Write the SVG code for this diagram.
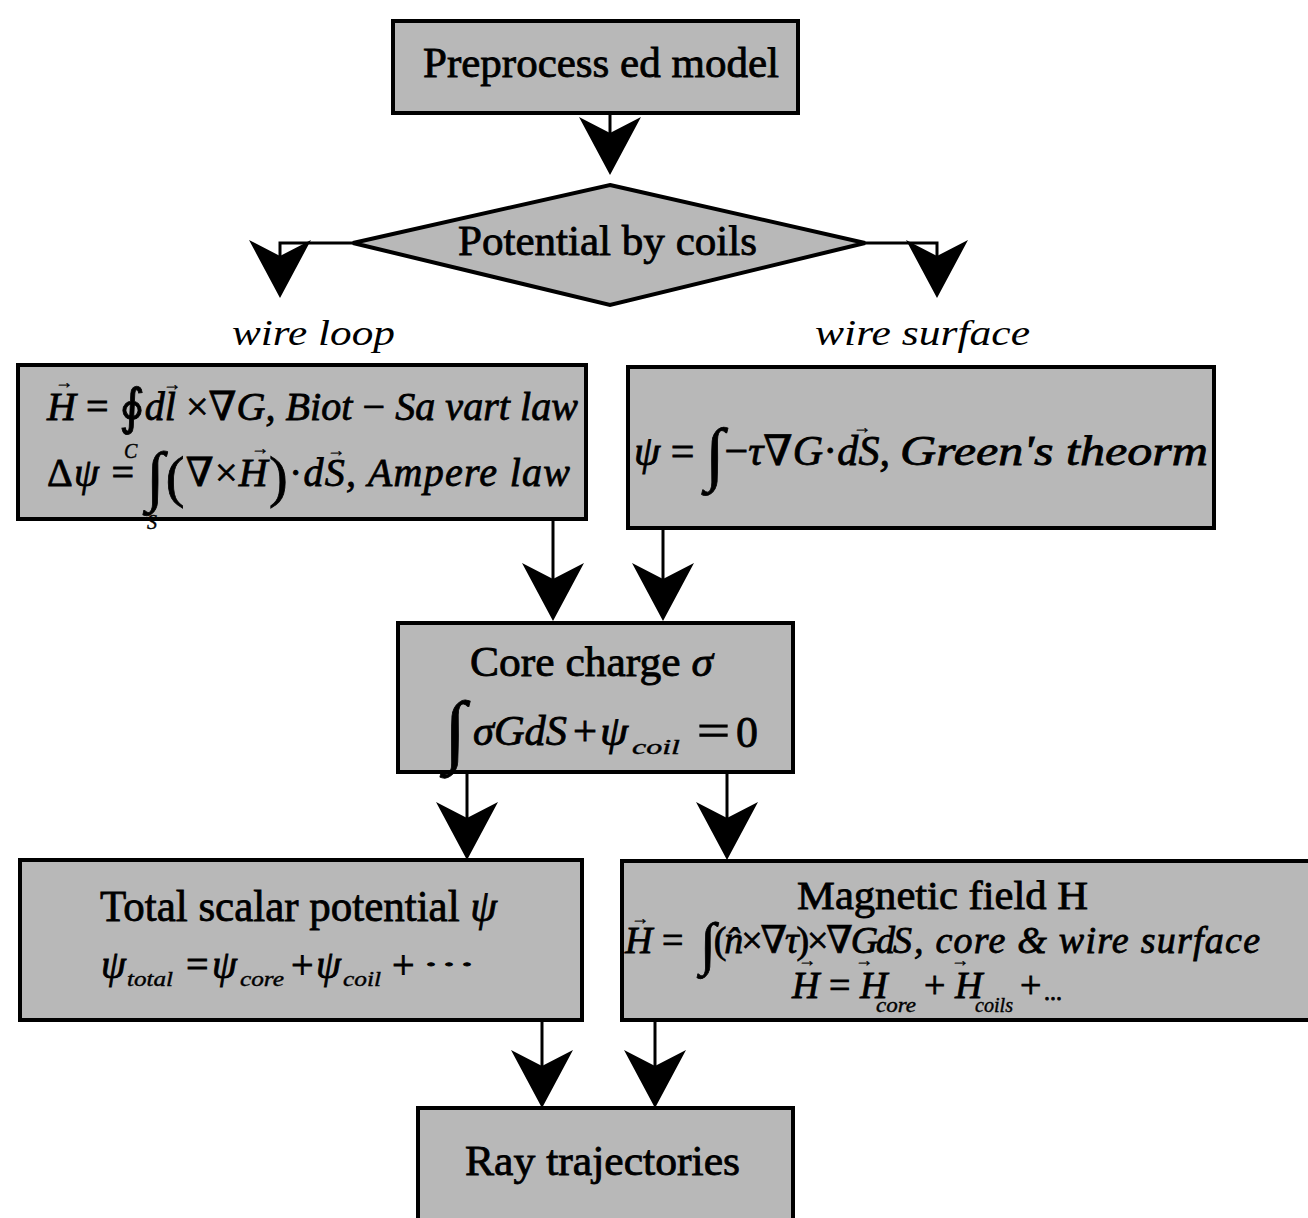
<svg xmlns="http://www.w3.org/2000/svg" width="1308" height="1218" viewBox="0 0 1308 1218">
<style>
.box{fill:#b8b8b8;stroke:#000;stroke-width:4}
.t{font-family:"Liberation Serif","Times New Roman","DejaVu Serif",serif;fill:#000;stroke:#000;stroke-width:0.8}
.i{font-style:italic}
.lab{font-family:"Liberation Serif","Times New Roman",serif;font-style:italic;fill:#000;font-size:36px}
.c{stroke:#000;stroke-width:3;fill:none}
.ah{fill:#000}
.m{font-size:40px}
.v{font-size:18px;stroke-width:0.4;text-anchor:middle}
.s{font-size:20px;font-style:italic;stroke-width:0.4}
</style>
<defs>
<path id="ah" class="ah" d="M0,0 L-31,-58 L0,-42 L31,-58 Z"/>
</defs>
<rect width="1308" height="1218" fill="#fff"/>
<g id="connectors">
<line class="c" x1="610" y1="113" x2="610" y2="140"/>
<use href="#ah" x="610" y="175"/>
<polyline class="c" points="355,243 280,243 280,260"/>
<use href="#ah" x="280" y="298"/>
<polyline class="c" points="865,243 937,243 937,260"/>
<use href="#ah" x="937" y="298"/>
<line class="c" x1="553" y1="519" x2="553" y2="580"/>
<use href="#ah" x="553" y="621"/>
<line class="c" x1="663" y1="528" x2="663" y2="580"/>
<use href="#ah" x="663" y="621"/>
<line class="c" x1="467" y1="772" x2="467" y2="825"/>
<use href="#ah" x="467" y="860"/>
<line class="c" x1="727" y1="772" x2="727" y2="825"/>
<use href="#ah" x="727" y="860"/>
<line class="c" x1="542" y1="1020" x2="542" y2="1075"/>
<use href="#ah" x="542" y="1108"/>
<line class="c" x1="655" y1="1020" x2="655" y2="1075"/>
<use href="#ah" x="655" y="1108"/>
</g>
<g id="preprocessed">
<rect class="box" x="393" y="21" width="405" height="92"/>
<text class="t" x="423" y="77" font-size="42" textLength="356" lengthAdjust="spacingAndGlyphs">Preprocess ed model</text>
</g>
<g id="potential">
<polygon class="box" points="610,185 865,243 610,305 353,243"/>
<text class="t" x="458" y="255" font-size="42" textLength="299" lengthAdjust="spacingAndGlyphs">Potential by coils</text>
</g>
<g id="labels">
<text class="lab" x="232" y="345" textLength="163" lengthAdjust="spacingAndGlyphs">wire loop</text>
<text class="lab" x="815" y="345" textLength="215" lengthAdjust="spacingAndGlyphs">wire surface</text>
</g>
<g id="wire-loop">
<rect class="box" x="18" y="365" width="568" height="154"/>
<text class="t m" x="47" y="420" textLength="531" lengthAdjust="spacing"><tspan class="i">H</tspan> = <tspan font-size="50" dy="4">∮</tspan><tspan class="i" dy="-4">dl</tspan> ×∇<tspan class="i">G, Biot</tspan> − <tspan class="i">Sa vart law</tspan></text>
<text class="t v" x="64" y="388">→</text>
<text class="t v" x="172" y="390" font-size="16">→</text>
<text class="t s" x="124" y="458" font-size="18">C</text>
<text class="t m" x="47" y="486" textLength="523" lengthAdjust="spacing">Δ<tspan class="i">ψ</tspan> = <tspan font-size="66" dy="12">∫</tspan><tspan font-size="56" dy="-2">(</tspan><tspan dy="-10">∇×</tspan><tspan class="i">H</tspan><tspan font-size="56" dy="10">)</tspan><tspan dy="-10">·</tspan><tspan class="i">dS, Ampere law</tspan></text>
<text class="t v" x="260" y="454">→</text>
<text class="t v" x="336" y="456">→</text>
<text class="t s" x="147" y="529" font-size="18">S</text>
</g>
<g id="wire-surface">
<rect class="box" x="628" y="367" width="586" height="161"/>
<text class="t" x="634" y="465" font-size="42" textLength="256" lengthAdjust="spacing"><tspan class="i">ψ</tspan> = <tspan font-size="70" dy="12">∫</tspan><tspan dy="-12">−</tspan><tspan class="i">τ</tspan>∇<tspan class="i">G</tspan>·<tspan class="i">dS,</tspan></text>
<text class="t i" x="900" y="465" font-size="42" textLength="308" lengthAdjust="spacingAndGlyphs">Green's theorm</text>
<text class="t v" x="862" y="433">→</text>
</g>
<g id="core-charge">
<rect class="box" x="398" y="623" width="395" height="149"/>
<text class="t" x="470" y="676" font-size="42" textLength="243" lengthAdjust="spacingAndGlyphs">Core charge <tspan font-style="italic">σ</tspan></text>
<text class="t" x="444" y="757" font-size="80" textLength="22" lengthAdjust="spacingAndGlyphs">∫</text>
<text class="t i" x="473" y="745" font-size="42" textLength="94" lengthAdjust="spacingAndGlyphs">σGdS</text>
<text class="t" x="573" y="745" font-size="42" textLength="24" lengthAdjust="spacingAndGlyphs">+</text>
<text class="t i" x="600" y="745" font-size="42" textLength="28" lengthAdjust="spacingAndGlyphs">ψ</text>
<text class="t s" x="632" y="754" font-size="24" textLength="48" lengthAdjust="spacingAndGlyphs">coil</text>
<text class="t" x="697" y="745" font-size="44" textLength="33" lengthAdjust="spacingAndGlyphs">=</text>
<text class="t" x="736" y="747" font-size="44" textLength="22" lengthAdjust="spacingAndGlyphs">0</text>
</g>
<g id="total-scalar">
<rect class="box" x="20" y="860" width="562" height="160"/>
<text class="t" x="100" y="921" font-size="44" textLength="397" lengthAdjust="spacingAndGlyphs">Total scalar potential <tspan font-style="italic">ψ</tspan></text>
<text class="t i m" x="101" y="978">ψ</text>
<text class="t s" x="127" y="986" textLength="46" lengthAdjust="spacingAndGlyphs">total</text>
<text class="t m" x="186" y="978">=</text>
<text class="t i m" x="212" y="978">ψ</text>
<text class="t s" x="240" y="986" textLength="44" lengthAdjust="spacingAndGlyphs">core</text>
<text class="t m" x="291" y="978">+</text>
<text class="t i m" x="316" y="978">ψ</text>
<text class="t s" x="343" y="986" textLength="38" lengthAdjust="spacingAndGlyphs">coil</text>
<text class="t m" x="392" y="978">+</text>
<text class="t" x="422" y="974" font-size="28" textLength="54" lengthAdjust="spacingAndGlyphs">···</text>
</g>
<g id="magnetic-field">
<rect class="box" x="622" y="861" width="700" height="159"/>
<text class="t" x="797" y="909" font-size="40" textLength="291" lengthAdjust="spacingAndGlyphs">Magnetic field H</text>
<text class="t" x="625" y="953" font-size="38"><tspan class="i">H</tspan> =</text>
<text class="t" x="700" y="953" font-size="38" textLength="212" lengthAdjust="spacing"><tspan font-size="58" dy="10">∫</tspan><tspan dy="-10">(</tspan><tspan class="i">n̂</tspan>×∇<tspan class="i">τ</tspan>)×∇<tspan class="i">GdS</tspan></text>
<text class="t i" x="914" y="953" font-size="38" textLength="346" lengthAdjust="spacing">, core &amp; wire surface</text>
<text class="t v" x="640" y="924" font-size="16">→</text>
<text class="t" x="792" y="998" font-size="38"><tspan class="i">H</tspan> = <tspan class="i">H</tspan></text>
<text class="t s" x="876" y="1012" textLength="40" lengthAdjust="spacingAndGlyphs">core</text>
<text class="t" x="924" y="998" font-size="38">+ <tspan class="i">H</tspan></text>
<text class="t s" x="975" y="1012" textLength="38" lengthAdjust="spacingAndGlyphs">coils</text>
<text class="t" x="1020" y="998" font-size="38">+</text>
<text class="t" x="1044" y="1000" font-size="24">...</text>
<text class="t v" x="807" y="966" font-size="16">→</text>
<text class="t v" x="864" y="966" font-size="16">→</text>
<text class="t v" x="960" y="966" font-size="16">→</text>
</g>
<g id="ray-trajectories">
<rect class="box" x="418" y="1108" width="375" height="130"/>
<text class="t" x="465" y="1175" font-size="42" textLength="275" lengthAdjust="spacingAndGlyphs">Ray trajectories</text>
</g>
</svg>
